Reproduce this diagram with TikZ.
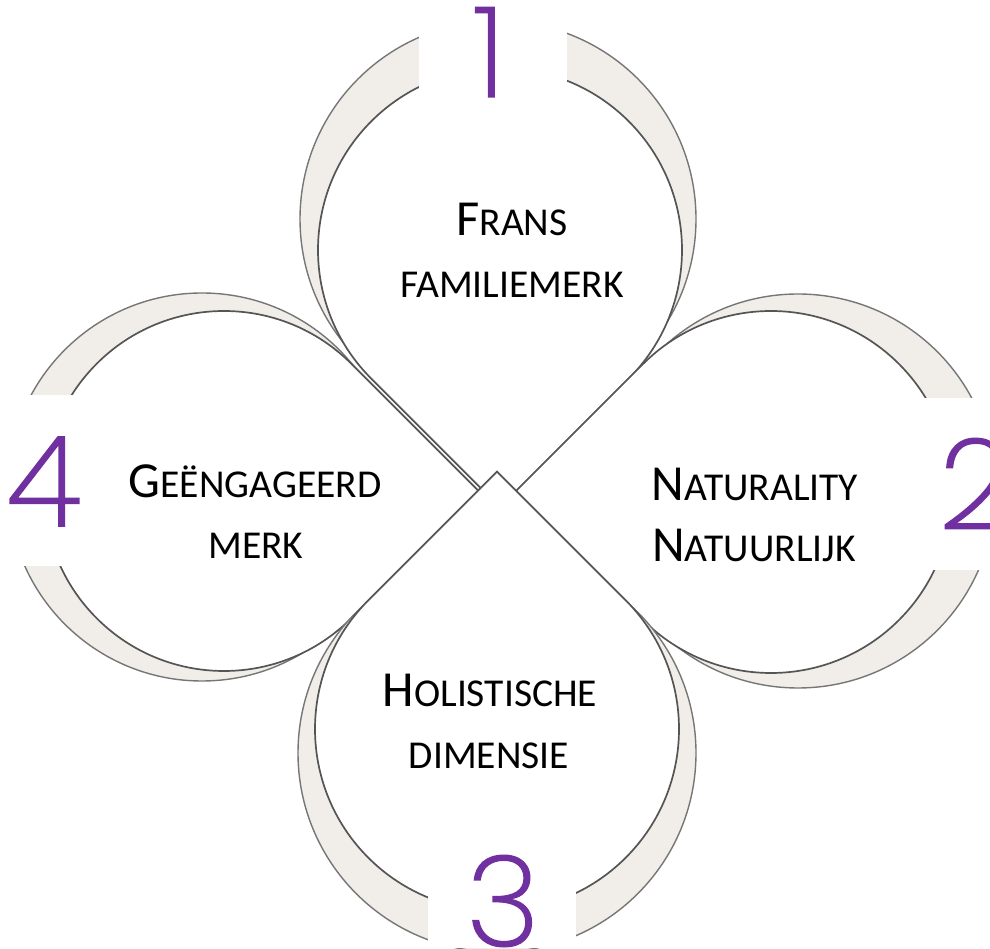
\documentclass[tikz,border=0pt]{standalone}
\usepackage{fontspec}
\setmainfont{Carlito}
\IfFontExistsTF{Poppins ExtraLight}{\newfontfamily\numfont{Poppins ExtraLight}[FakeBold=1.2]}{%
 \IfFontExistsTF{Poppins Thin}{\newfontfamily\numfont{Poppins Thin}}{%
  \IfFontExistsTF{Fira Sans Light}{\newfontfamily\numfont{Fira Sans Light}}{%
   \IfFontExistsTF{Noto Sans Light}{\newfontfamily\numfont{Noto Sans Light}}{%
    \IfFontExistsTF{Open Sans Light}{\newfontfamily\numfont{Open Sans Light}}{%
     \newfontfamily\numfont{Poppins}}}}}}
\usetikzlibrary{calc}
\definecolor{beige}{RGB}{241,237,232}
\definecolor{ringgray}{RGB}{118,118,118}
\definecolor{dropgray}{RGB}{85,85,85}
\definecolor{numpurple}{RGB}{112,48,160}
\newcommand\capbig{\fontsize{50.5}{50.5}\selectfont}
\newcommand\capsmall{\fontsize{39.5}{39.5}\selectfont}
% style, cx, cy (pixel, downwards), r, tip angle
\newcommand\tdrop[5]{%
  \draw[#1] ($(#2,948-#3)+(#5+45:#4)$) arc[start angle=#5+45, end angle=#5+315, radius=#4]
    -- ($(#2,948-#3)+(#5:{#4*1.41421})$) -- cycle;}
\begin{document}
\begin{tikzpicture}[x=1pt,y=1pt,
  crescent/.style={fill=beige, draw=ringgray, line width=1.4pt},
  drop/.style={fill=white, draw=dropgray, line width=1.7pt},
  lbl/.style={inner sep=0pt, anchor=base, text=black},
  num/.style={inner sep=0pt, anchor=base, text=numpurple, font=\numfont\fontsize{126}{126}\selectfont}]
\useasboundingbox (0,0) rectangle (990,948);
% 1 (top)
\draw[crescent] (498,948-219) circle[radius=198];
\tdrop{drop}{500}{250}{182}{-90}
% 2 (right)
\draw[crescent] (798,948-491) circle[radius=197];
\tdrop{drop}{771}{492}{181}{180}
% 4 (left)
\draw[crescent] (202,948-487) circle[radius=194];
\tdrop{drop}{224}{491}{180}{0}
% 3 (bottom)
\draw[crescent] (497,948-753) circle[radius=199];
\tdrop{drop}{497}{729}{182}{90}
% white boxes behind the numbers
\fill[white] (419,948) rectangle (567,948-105);
\fill[white] (905,948-398) rectangle (990,948-570);
\fill[white] (428,948-850) rectangle (576,0);
\fill[white] (0,948-395) rectangle (88,948-566);
% numbers
\node[num] (n1) at (489,948-97) {1};
\node[num] (n2) at (975,948-529) {2};
\node[num] (n3) at (503,948-946) {3};
\node[num] (n4) at (44,948-526) {4};
% labels
\node[lbl] (t1a) at (512,948-236) {\capbig F\capsmall RANS};
\node[lbl] (t1b) at (512,948-298) {\capsmall FAMILIEMERK};
\node[lbl] (t2a) at (755,948-501) {\capbig N\capsmall ATURALITY};
\node[lbl] (t2b) at (754,948-562) {\capbig N\capsmall ATUURLIJK};
\node[lbl] (t3a) at (490,948-707) {\capbig H\capsmall OLISTISCHE};
\node[lbl] (t3b) at (489,948-768) {\capsmall DIMENSIE};
\node[lbl] (t4a) at (255,948-498) {\capbig G\capsmall EËNGAGEERD};
\node[lbl] (t4b) at (256,948-559) {\capsmall MERK};
\end{tikzpicture}
\end{document}
